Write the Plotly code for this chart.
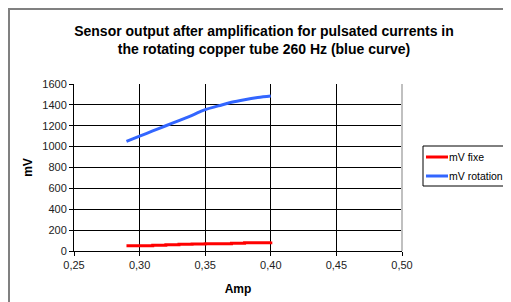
import plotly.graph_objects as go

amp = [0.29, 0.30, 0.31, 0.32, 0.33, 0.34, 0.35, 0.36, 0.37, 0.38, 0.39, 0.40]
mv_fixe = [50, 50, 55, 60, 65, 68, 70, 70, 75, 78, 80, 90]
mv_rotation = [1050, 1100, 1150, 1200, 1250, 1300, 1355, 1390, 1425, 1450, 1470, 1485]

series_names = ["mV fixe", "mV rotation"]
series_colors = ["#ff0000", "#3366ff"]

x_ticks = [0.25, 0.30, 0.35, 0.40, 0.45, 0.50]
y_ticks = [0, 200, 400, 600, 800, 1000, 1200, 1400, 1600]

title = "Sensor output after amplification for pulsated currents in<br>the rotating copper tube 260 Hz (blue curve)"

# figure pixel geometry (page is offset by the 8px body margin)
W, H = 503, 294
L, R, T, B = 66, 394, 76, 243
PW, PH = R - L, B - T

def px(x):
    return (x - L) / PW

def py(y):
    return (B - y) / PH

fig = go.Figure()
fig.add_trace(go.Scatter(x=amp, y=mv_fixe, mode="lines", name=series_names[0],
                         line=dict(color=series_colors[0], width=3, shape="hv")))
fig.add_trace(go.Scatter(x=amp, y=mv_rotation, mode="lines", name=series_names[1],
                         line=dict(color=series_colors[1], width=3, shape="spline")))

fig.update_layout(
    width=W, height=H,
    margin=dict(l=L, r=W - R, t=T, b=H - B, autoexpand=False),
    paper_bgcolor="white", plot_bgcolor="white",
    separators=",.",
    font=dict(family="Liberation Sans, Arial", size=11, color="#222222"),
    title=dict(text="<b>" + title + "</b>", x=256 / W, xanchor="center",
               y=1 - 28 / H, yanchor="middle",
               font=dict(size=14, color="#000000")),
    xaxis=dict(range=[0.25, 0.50], tickvals=x_ticks, tickformat=".2f",
               showgrid=True, gridcolor="#000000", gridwidth=1,
               showline=True, linecolor="#000000", linewidth=1,
               ticks="outside", ticklen=4, tickcolor="#000000",
               zeroline=False,
               title=dict(text="<b>Amp</b>", font=dict(size=12, color="#000000"), standoff=14)),
    yaxis=dict(range=[0, 1600], tickvals=y_ticks,
               showgrid=True, gridcolor="#000000", gridwidth=1,
               showline=True, linecolor="#000000", linewidth=1,
               ticks="outside", ticklen=4, tickcolor="#000000",
               zeroline=False,
               title=dict(text="<b>mV</b>", font=dict(size=12, color="#000000"), standoff=7)),
    showlegend=False,
)

# plot area right border (light gray)
fig.add_shape(type="line", xref="paper", yref="paper", x0=1, x1=1, y0=0, y1=1,
              line=dict(color="#c0c0c0", width=2))
# outer chart border
fig.add_shape(type="rect", xref="paper", yref="paper",
              x0=px(1), x1=px(530), y0=py(320), y1=py(1),
              line=dict(color="#808080", width=2), layer="below")
# legend box
fig.add_shape(type="rect", xref="paper", yref="paper",
              x0=px(415), x1=px(530), y0=py(178), y1=py(138),
              line=dict(color="#000000", width=1), fillcolor="white")
# legend entries
for i, (name, color) in enumerate(zip(series_names, series_colors)):
    yc = 149 + 19 * i
    fig.add_shape(type="line", xref="paper", yref="paper",
                  x0=px(418), x1=px(440), y0=py(yc), y1=py(yc),
                  line=dict(color=color, width=3))
    fig.add_annotation(text=name, xref="paper", yref="paper",
                       x=px(440), y=py(yc), xanchor="left", yanchor="middle",
                       showarrow=False, borderpad=0,
                       font=dict(size=10.5, color="#000000"))

fig.write_html("out.html")
